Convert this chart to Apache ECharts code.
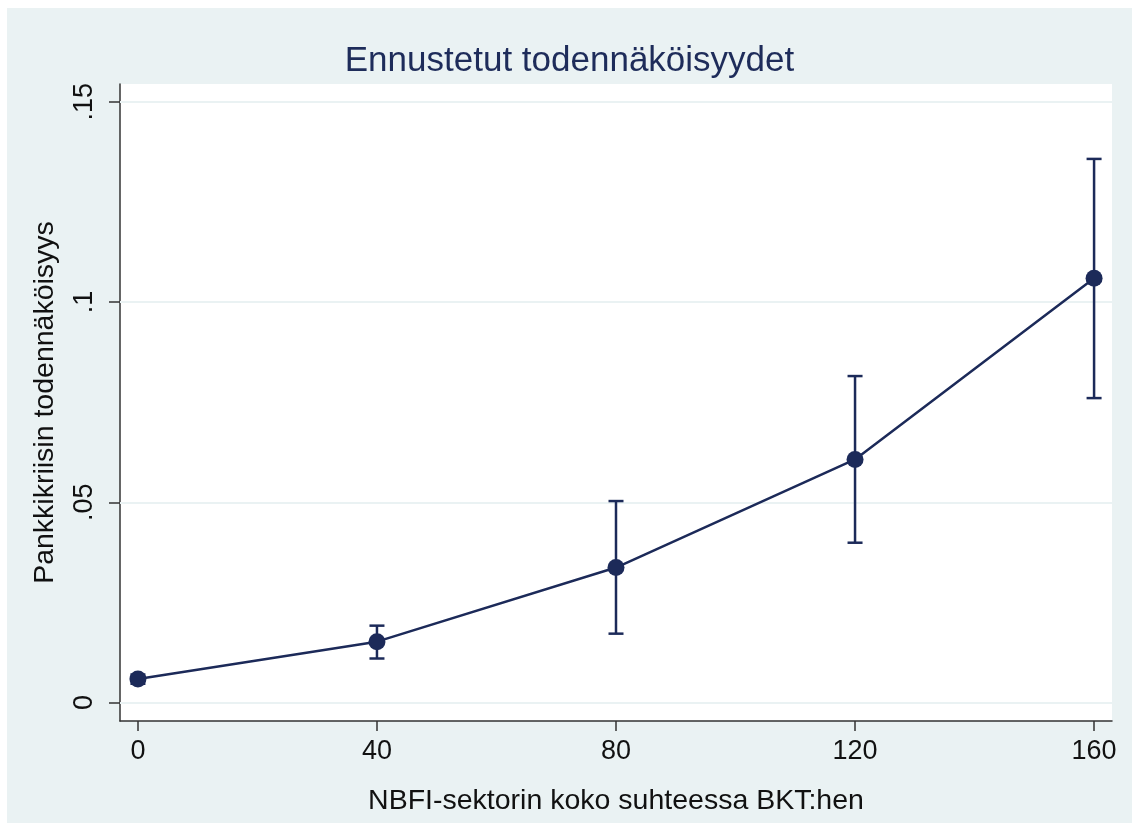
<!DOCTYPE html>
<html>
<head>
<meta charset="utf-8">
<script src="https://cdn.jsdelivr.net/npm/echarts@6/dist/echarts.min.js"></script>
<style>
  html, body { margin: 0; padding: 0; background: #ffffff; overflow: hidden; }
  #chart { position: absolute; left: 7px; top: 8px; width: 1125px; height: 815px; background: #EAF2F3; }
</style>
</head>
<body>
<div id="chart"></div>
<script>
// NBFI sector size (% of GDP) and predicted banking-crisis probability with 95% CI
const nbfiSize   = [0, 40, 80, 120, 160];
const predicted  = [0.0059, 0.0152, 0.0337, 0.0607, 0.1059];
const ciLower    = [0.0047, 0.0110, 0.0172, 0.0399, 0.0760];
const ciUpper    = [0.0070, 0.0192, 0.0503, 0.0815, 0.1357];
const xTicks     = [0, 40, 80, 120, 160];
const yTicks     = [0, 0.05, 0.1, 0.15];
const yTickText  = ['0', '.05', '.1', '.15'];

const navy = '#1C2A59';
const font = '"Liberation Sans", Arial, Helvetica, sans-serif';

const chart = echarts.init(document.getElementById('chart'));

const lineData = nbfiSize.map((x, i) => [x, predicted[i]]);
const barData  = nbfiSize.map((x, i) => [x, ciLower[i], ciUpper[i]]);

chart.setOption({
  animation: false,
  backgroundColor: '#EAF2F3',
  title: {
    text: 'Ennustetut todennäköisyydet',
    left: 'center',
    top: 31,
    textStyle: { fontFamily: font, fontSize: 35, fontWeight: 'normal', color: '#1E2C5A' }
  },
  grid: {
    left: 113, top: 76, width: 992, height: 637,
    outerBoundsMode: 'none',
    containLabel: false,
    backgroundColor: '#ffffff', show: true, borderWidth: 0
  },
  xAxis: {
    type: 'value',
    min: -3,
    max: 163,
    name: 'NBFI-sektorin koko suhteessa BKT:hen',
    nameLocation: 'middle',
    nameGap: 66,
    nameTextStyle: { fontFamily: font, fontSize: 28.5, color: '#111111' },
    axisLine: { show: true, onZero: false, lineStyle: { color: '#333333', width: 1.5 } },
    axisTick: { show: true, length: 10, customValues: xTicks, lineStyle: { color: '#333333', width: 1.5 } },
    axisLabel: { customValues: xTicks, margin: 17, fontFamily: font, fontSize: 27, color: '#111111' },
    splitLine: { show: false }
  },
  yAxis: {
    type: 'value',
    min: -0.0046,
    max: 0.1544,
    name: 'Pankkikriisin todennäköisyys',
    nameLocation: 'middle',
    nameGap: 60,
    nameRotate: 90,
    nameTextStyle: { fontFamily: font, fontSize: 28.5, color: '#111111' },
    axisLine: { show: true, onZero: false, lineStyle: { color: '#333333', width: 1.5 } },
    axisTick: { show: true, length: 11, customValues: yTicks, lineStyle: { color: '#333333', width: 1.5 } },
    axisLabel: {
      customValues: yTicks,
      rotate: 90,
      margin: 22,
      fontFamily: font,
      fontSize: 27,
      color: '#111111',
      formatter: v => {
        const i = yTicks.findIndex(t => Math.abs(t - v) < 1e-9);
        return i >= 0 ? yTickText[i] : '';
      }
    },
    splitLine: { show: false }
  },
  series: [
    {
      // horizontal grid lines at the labelled ticks
      type: 'line',
      data: [],
      silent: true,
      z: 1,
      markLine: {
        z: 1,
        silent: true,
        symbol: 'none',
        label: { show: false },
        lineStyle: { type: 'solid', color: '#EAF2F3', width: 2 },
        data: yTicks.map(v => ({ yAxis: v }))
      }
    },
    {
      type: 'custom',
      z: 3,
      data: barData,
      encode: { x: 0, y: [1, 2] },
      renderItem: (params, api) => {
        const x = api.value(0);
        const lo = api.coord([x, api.value(1)]);
        const hi = api.coord([x, api.value(2)]);
        const cap = 7.5;
        const style = { stroke: navy, lineWidth: 2.5, fill: null };
        return {
          type: 'group',
          children: [
            { type: 'line', shape: { x1: lo[0], y1: lo[1], x2: hi[0], y2: hi[1] }, style },
            { type: 'line', shape: { x1: hi[0] - cap, y1: hi[1], x2: hi[0] + cap, y2: hi[1] }, style },
            { type: 'line', shape: { x1: lo[0] - cap, y1: lo[1], x2: lo[0] + cap, y2: lo[1] }, style }
          ]
        };
      }
    },
    {
      type: 'line',
      z: 4,
      data: lineData,
      symbol: 'circle',
      symbolSize: 17,
      lineStyle: { color: navy, width: 2.5 },
      itemStyle: { color: navy },
      emphasis: { disabled: true }
    }
  ]
});
</script>
</body>
</html>
